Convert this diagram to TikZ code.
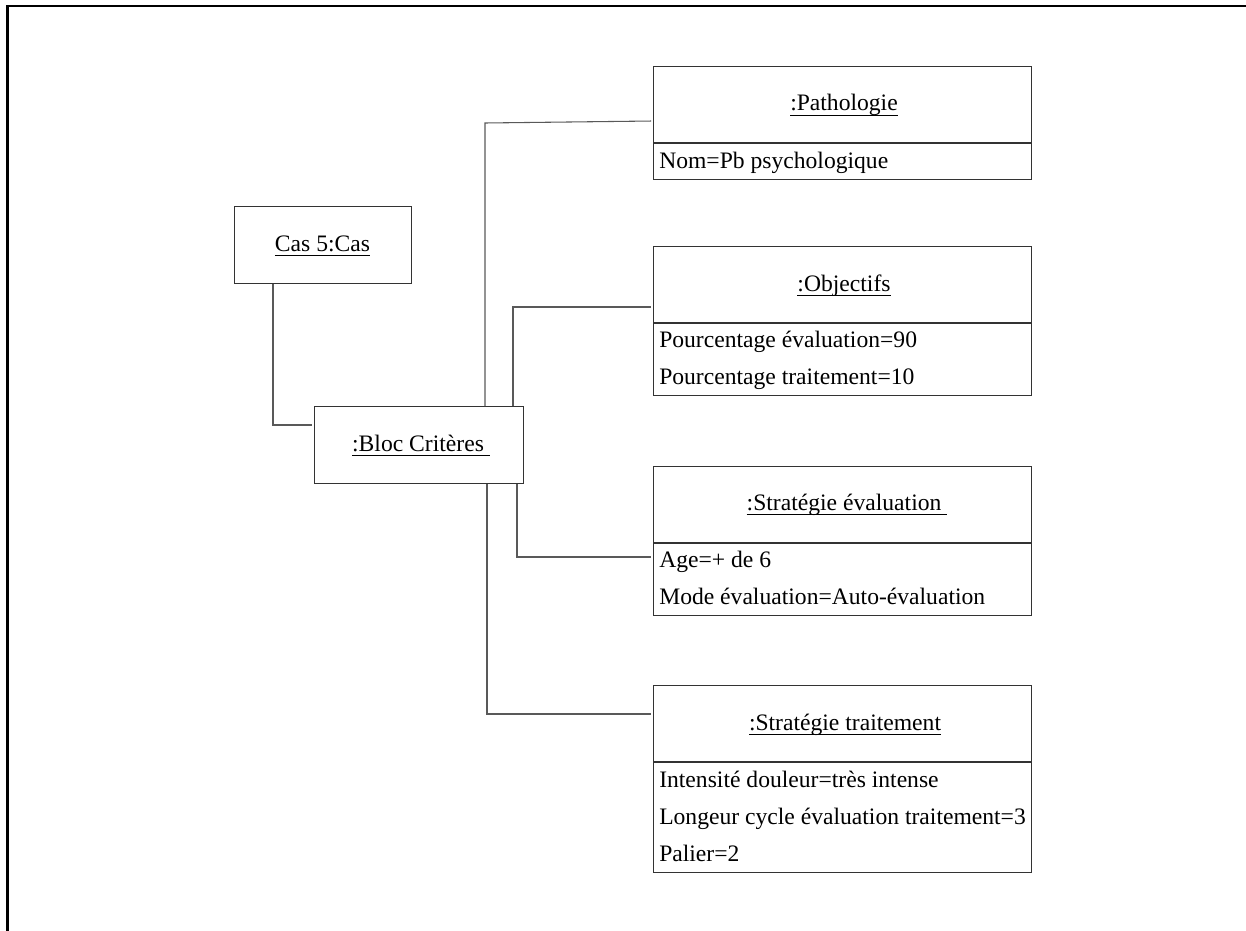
\documentclass[tikz,border=0pt]{standalone}
\usepackage{fontspec}
\setmainfont{Liberation Serif}
\usetikzlibrary{calc}

% underline at a fixed depth, as in the class headers
\newcommand\uText[1]{\setbox0=\hbox{#1}\rlap{\rule[-0.21em]{\wd0}{0.06em}}\box0}

\begin{document}
\begin{tikzpicture}[x=0.75pt,y=-0.75pt,
  every node/.style={font=\fontsize{17.7pt}{21pt}\selectfont},
  objbox/.style={draw=black!80, line width=0.9pt, inner sep=0pt, anchor=north west, minimum height=57.75pt},
  umlbox/.style={objbox, minimum width=283.5pt},
  divider/.style={draw=black!80, line width=0.9pt},
  hdr/.style={anchor=base, inner sep=0pt},
  attr/.style={anchor=base west, inner sep=0pt},
  conn/.style={draw=black!65, line width=0.8pt, shorten >=1.5pt},
  frame/.style={draw=black, line width=1.6pt}]
\useasboundingbox (0,0) rectangle (1246,931);

% outer frame (top and left edges only)
\draw[frame] (7.5,931) -- (7.5,6) -- (1246,6);

% object boxes
\node[objbox, minimum width=132.75pt] (cas) at (234,206) {};
\node[objbox, minimum width=156.75pt] (bloc) at (314,406) {};
\node[umlbox, minimum height=84.75pt] (patho) at (653,66) {};
\node[umlbox, minimum height=111.75pt] (obj) at (653,246) {};
\node[umlbox, minimum height=111.75pt] (seval) at (653,466) {};
\node[umlbox, minimum height=140.25pt] (strait) at (653,685) {};

% compartment dividers
\foreach \b in {patho,obj,seval,strait}
  \draw[divider] ([yshift=-57.75pt]\b.north west) -- ([yshift=-57.75pt]\b.north east);

% headers
\node[hdr] (cas-t) at (322.5,251) {\uText{Cas 5:Cas}};
\node[hdr] (bloc-t) at (421,451) {\uText{:Bloc Critères\ }};
\node[hdr] (patho-t) at (844,111) {\uText{:Pathologie}};
\node[hdr] (obj-t) at (844,291) {\uText{:Objectifs}};
\node[hdr] (seval-t) at (847,510.5) {\uText{:Stratégie évaluation\ }};
\node[hdr] (strait-t) at (845,730) {\uText{:Stratégie traitement}};

% attributes
\node[attr] (patho-a1) at (659,168) {Nom=Pb psychologique};
\node[attr] (obj-a1) at (659,347) {Pourcentage évaluation=90};
\node[attr] (obj-a2) at (659,384) {Pourcentage traitement=10};
\node[attr] (seval-a1) at (659,567) {Age=+ de 6};
\node[attr] (seval-a2) at (659,604) {Mode évaluation=Auto-évaluation};
\node[attr] (strait-a1) at (659,787) {Intensité douleur=très intense};
\node[attr] (strait-a2) at (659,824) {Longeur cycle évaluation traitement=3};
\node[attr] (strait-a3) at (659,861) {Palier=2};

% links
\coordinate (k1) at (273,425);
\coordinate (k2) at (485,123);
\coordinate (k2e) at (653,121);
\coordinate (k3) at (513,307);
\coordinate (k4) at (517,557);
\coordinate (k5) at (487,714);

\draw[conn] (cas.south -| k1) -- (k1) -- (bloc.west |- k1);
\draw[conn] (bloc.north -| k2) -- (k2) -- (k2e);
\draw[conn] (bloc.north -| k3) -- (k3) -- (obj.west |- k3);
\draw[conn] (bloc.south -| k4) -- (k4) -- (seval.west |- k4);
\draw[conn] (bloc.south -| k5) -- (k5) -- (strait.west |- k5);
\end{tikzpicture}
\end{document}
